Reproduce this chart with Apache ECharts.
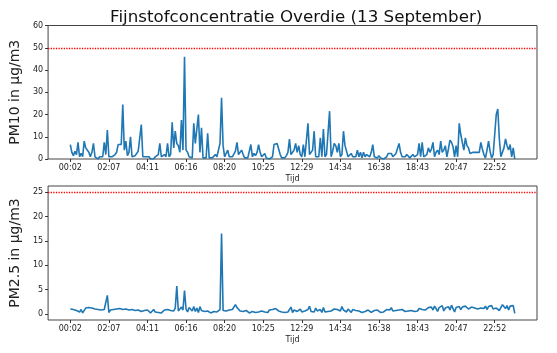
<!DOCTYPE html>
<html>
<head>
<meta charset="utf-8">
<script src="https://cdn.jsdelivr.net/npm/echarts@6/dist/echarts.min.js"></script>
<style>
  html, body { margin: 0; padding: 0; background: #fff; }
  #chart { width: 557px; height: 353px; }
</style>
</head>
<body>
<div id="chart"></div>
<script>
// tick labels, one every 25 samples
const tickLabels = ['00:02', '02:07', '04:11', '06:16', '08:20', '10:25',
  '12:29', '14:34', '16:38', '18:43', '20:47', '22:52'];
const tickPositions = [0, 25, 50, 75, 100, 125, 150, 175, 200, 225, 250, 275];

// PM10 readings (289 samples, ~5 min apart)
const pm10 = [
  6.5, 3, 1.5, 3.5, 2, 7.5, 1, 2.5, 1, 8, 5, 4.5, 3, 1, 3, 7, 1, 1, 0, 1, 0.5, 1, 7.5, 2, 13,
  1, 0.5, 1, 0.5, 2, 3, 6.5, 6, 6.5, 24.5, 4, 8, 1.5, 3, 10, 1, 0.5, 1.5, 2.5, 3.5, 4, 15.5, 1, 0.5, 1,
  0.5, 1, 0, 0.5, 0, 1, 0.5, 2, 7, 1, 0.5, 2, 1, 7, 1, 2, 16.5, 5, 12.5, 7, 6, 3, 17.5, 4, 46,
  4, 3, 1, 1, 0.5, 16, 7, 6.5, 20, 3, 14, 0.5, 0, 0.5, 11.5, 0.5, 0, 0.5, 1, 2, 1, 1.5, 7, 27.5, 6,
  1, 0.5, 4, 1, 1.5, 1, 1.5, 3.5, 7.5, 2, 3, 4, 2, 0.5, 1, 0.5, 0.5, 6.5, 1, 2.5, 1.5, 3, 6.5, 3, 1,
  0.5, 2.5, 0.5, 0.5, 0, 0.5, 1, 6.5, 7, 7, 6.5, 2, 0.5, 1, 0.5, 1.5, 3, 9, 2, 3, 4, 7, 3, 6, 2,
  1, 6.5, 1, 0.5, 16, 2, 1.5, 4, 12.5, 1, 0.5, 1, 9.5, 1, 13.5, 1, 2, 1.5, 21.5, 1, 3.5, 7, 6, 3, 7,
  1, 2, 12.5, 6, 5.5, 1, 0.5, 2.5, 1, 0.5, 1, 4, 1, 3, 0.5, 3, 1, 2, 2.5, 1, 3, 6.5, 1, 1.5, 0.5,
  1.5, 0.5, 0.5, 0, 0.5, 1, 2.5, 3, 2.5, 1, 1.5, 2.5, 2, 7, 3, 1, 1.5, 1, 2, 1.5, 0.5, 1, 2, 1, 1.5,
  2, 7, 1, 7.5, 1, 0.5, 2, 5, 3, 4.5, 7.5, 1, 3, 4, 2, 8, 3, 4, 6, 1, 4.5, 8.5, 7.5, 5.5, 1,
  6, 1, 16, 11, 11, 4, 9.5, 6, 5, 2.5, 3, 3, 3, 3, 3.5, 3, 7.5, 4.5, 2, 0.5, 4, 8, 3.5, 0.5, 2,
  2, 20, 22.5, 9, 1, 3, 5, 9, 6, 4, 6.5, 1, 5, 0
];

// PM2.5 readings (same timestamps)
const pm25 = [
  1.0, 0.8, 0.9, 0.6, 0.7, 1.1, 0.4, 0.9, 0.2, 0.6, 1.2, 0.8, 1.3, 1.1, 1.2, 0.9, 1.0, 0.7, 0.9, 0.6, 0.8, 0.5, 0.9, 0.6, 3.8,
  0.3, 0.8, 0.6, 0.9, 0.7, 1.0, 0.9, 1.1, 0.8, 0.9, 0.7, 1.0, 0.6, 0.8, 1.1, 0.9, 0.5, 0.7, 0.4, 0.8, 0.6, 0.5, 0.9, 0.7, 0.3,
  0.8, 0.5, 0.2, 0.6, 0.9, 0.4, 0.7, 0.3, 0.5, 0.2, 0.6, 0.8, 0.4, 0.9, 0.5, 0.7, 1.0, 0.6, 1.2, 5.7, 0.6, 0.9, 1.4, 0.8, 4.8,
  1.0, 0.4, 1.3, 0.9, 0.6, 1.5, 0.5, 1.2, 0.3, 1.5, 0.7, 0.4, 0.5, 0.3, 0.6, 0.4, 0.2, 0.3, 0.5, 0.8, 0.4, 0.6, 0.9, 16.5, 0.7,
  0.3, 0.6, 0.5, 0.8, 0.6, 0.9, 1.2, 1.9, 1.3, 0.9, 0.6, 0.8, 0.5, 0.3, 0.7, 0.4, 0.2, 0.6, 0.5, 0.9, 0.3, 0.7, 0.4, 0.8, 0.6,
  0.9, 0.4, 0.7, 0.3, 0.8, 0.5, 0.9, 0.7, 1.1, 0.8, 0.6, 0.3, 0.4, 0.2, 0.3, 0.5, 0.4, 0.6, 1.4, 0.3, 0.8, 1.2, 0.5, 0.7, 1.0,
  0.4, 0.8, 0.6, 0.3, 0.9, 1.6, 0.5, 0.7, 0.4, 1.2, 0.6, 0.5, 0.9, 0.3, 1.3, 0.4, 0.7, 0.5, 0.8, 0.6, 0.4, 1.0, 0.7, 0.9, 0.5,
  0.6, 1.5, 0.8, 1.2, 0.4, 1.0, 0.6, 0.3, 0.9, 0.5, 0.7, 0.4, 0.6, 0.9, 0.3, 0.7, 0.5, 0.4, 0.8, 0.6, 0.3, 0.5, 0.7, 0.4, 0.8,
  0.6, 0.3, 0.5, 0.4, 0.7, 0.9, 1.2, 0.8, 1.3, 0.6, 0.4, 0.7, 0.5, 0.8, 0.6, 0.9, 0.7, 0.5, 0.8, 0.6, 0.9, 0.7, 1.0, 0.5, 0.8,
  0.6, 1.1, 0.7, 0.9, 0.5, 0.8, 1.0, 1.3, 0.9, 1.4, 0.8, 1.6, 1.1, 0.5, 1.3, 1.0, 1.7, 0.6, 1.2, 0.9, 1.5, 0.8, 1.8, 1.1, 0.4,
  1.3, 1.0, 1.5, 0.9, 1.4, 1.1, 1.6, 1.2, 1.0, 1.3, 1.4, 1.1, 1.2, 1.5, 1.0, 1.3, 1.2, 1.4, 1.1, 1.6, 0.9, 1.5, 1.2, 1.7, 1.0,
  1.4, 1.2, 1.6, 0.7, 1.3, 1.9, 1.5, 1.1, 1.7, 0.8, 1.6, 1.2, 1.7, 0.1
];

const limitPm10 = 50;
const limitPm25 = 25;

const font = 'DejaVu Sans';

function xAxisFor(gridIndex) {
  return {
    type: 'value',
    gridIndex: gridIndex,
    min: -14.4,
    max: 302.4,
    name: 'Tijd',
    nameLocation: 'middle',
    nameGap: 16,
    nameTextStyle: { fontFamily: font, fontSize: 8, color: '#222' },
    axisLine: { show: false, onZero: false },
    axisTick: { show: true, length: 3, customValues: tickPositions, lineStyle: { color: '#333' } },
    axisLabel: {
      customValues: tickPositions,
      margin: 5,
      fontFamily: font,
      fontSize: 8,
      color: '#222',
      formatter: v => tickLabels[Math.round(v / 25)] || ''
    },
    splitLine: { show: false }
  };
}

function yAxisFor(gridIndex, name, extra) {
  return Object.assign({
    type: 'value',
    gridIndex: gridIndex,
    name: name,
    nameLocation: 'middle',
    nameRotate: 90,
    nameGap: 16,
    nameTextStyle: { fontFamily: font, fontSize: 14, color: '#222' },
    axisLine: { show: false, onZero: false },
    axisTick: { show: true, length: 3, lineStyle: { color: '#333' } },
    axisLabel: { margin: 5, fontFamily: font, fontSize: 8, color: '#222' },
    splitLine: { show: false }
  }, extra);
}

const chart = echarts.init(document.getElementById('chart'), null, { renderer: 'canvas' });

chart.setOption({
  animation: false,
  backgroundColor: '#fff',
  title: {
    text: 'Fijnstofconcentratie Overdie (13 September)',
    left: 105,
    top: 4,
    textStyle: { fontFamily: font, fontSize: 16.7, fontWeight: 'normal', color: '#111' }
  },
  grid: [
    { left: 47, top: 25.5, width: 490, height: 133.5, show: true, borderColor: '#444', borderWidth: 1 },
    { left: 47, top: 186, width: 490, height: 134, show: true, borderColor: '#444', borderWidth: 1 }
  ],
  xAxis: [xAxisFor(0), xAxisFor(1)],
  yAxis: [
    yAxisFor(0, 'PM10 in μg/m3', { min: 0, max: 60, interval: 10 }),
    yAxisFor(1, 'PM2.5 in μg/m3', {
      min: -1.25,
      max: 26.25,
      axisTick: { show: true, length: 3, customValues: [0, 5, 10, 15, 20, 25], lineStyle: { color: '#333' } },
      axisLabel: { customValues: [0, 5, 10, 15, 20, 25], margin: 5, fontFamily: font, fontSize: 8, color: '#222' }
    })
  ],
  series: [
    {
      type: 'line',
      xAxisIndex: 0,
      yAxisIndex: 0,
      data: pm10.map((v, i) => [i, v]),
      showSymbol: false,
      lineStyle: { color: '#1f77b4', width: 1.6 },
      markLine: {
        silent: true,
        symbol: 'none',
        label: { show: false },
        lineStyle: { color: 'red', type: 'dotted', width: 1.3 },
        data: [{ yAxis: limitPm10 }]
      }
    },
    {
      type: 'line',
      xAxisIndex: 1,
      yAxisIndex: 1,
      data: pm25.map((v, i) => [i, v]),
      showSymbol: false,
      lineStyle: { color: '#1f77b4', width: 1.6 },
      markLine: {
        silent: true,
        symbol: 'none',
        label: { show: false },
        lineStyle: { color: 'red', type: 'dotted', width: 1.3 },
        data: [{ yAxis: limitPm25 }]
      }
    }
  ]
});
</script>
</body>
</html>
